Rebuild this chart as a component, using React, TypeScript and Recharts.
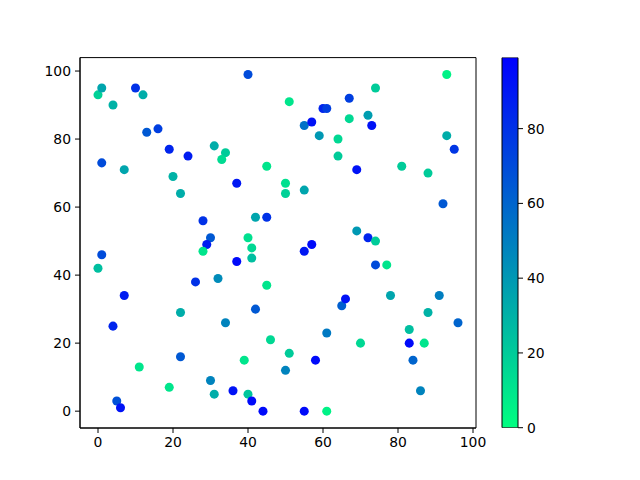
import React from "react";
import {
  ScatterChart,
  Scatter,
  XAxis,
  YAxis,
  ZAxis,
  Cell,
  ReferenceArea,
  BarChart,
  Bar,
} from "recharts";

// values
const xs = [
  0, 1, 4, 10, 12, 13, 16, 1, 7, 19, 20, 22, 24, 31, 34, 33, 40, 37, 45, 51,
  50, 50, 55, 55, 57, 59, 60, 61, 67, 64, 64, 67, 72, 73, 74, 69, 81, 88, 93, 93,
  95, 92, 42, 45, 28, 30, 29, 28, 40, 41, 41, 37, 45, 26, 32, 42, 34, 22, 46, 22,
  51, 50, 30, 31, 40, 36, 41, 44, 39, 55, 57, 55, 58, 61, 61, 65, 66, 70, 69, 72,
  74, 74, 77, 78, 83, 83, 84, 87, 88, 91, 96, 86, 0, 1, 7, 4, 11, 19, 5, 6,
];
const ys = [
  93, 95, 90, 95, 93, 82, 83, 73, 71, 77, 69, 64, 75, 78, 76, 74, 99, 67, 72, 91,
  67, 64, 65, 84, 85, 81, 89, 89, 92, 80, 75, 86, 87, 84, 95, 71, 72, 70, 99, 81,
  77, 61, 57, 57, 56, 51, 49, 47, 51, 48, 45, 44, 37, 38, 39, 30, 26, 29, 21, 16,
  17, 12, 9, 5, 5, 6, 3, 0, 15, 47, 49, 0, 15, 0, 23, 31, 33, 20, 53, 51,
  50, 43, 43, 34, 24, 20, 15, 20, 29, 34, 26, 6, 42, 46, 34, 25, 13, 7, 3, 1,
];
const cs = [
  18, 35, 30, 80, 32, 65, 75, 70, 35, 85, 30, 32, 88, 32, 20, 14, 70, 90, 10, 10,
  12, 18, 35, 55, 92, 40, 85, 75, 75, 15, 20, 15, 38, 92, 20, 92, 20, 20, 5, 32,
  78, 65, 35, 80, 80, 65, 88, 10, 12, 15, 25, 95, 10, 80, 45, 65, 48, 32, 15, 65,
  20, 48, 48, 32, 22, 92, 95, 95, 10, 90, 95, 95, 95, 5, 52, 62, 92, 15, 40, 85,
  20, 70, 10, 35, 25, 95, 60, 10, 30, 50, 60, 48, 25, 70, 88, 85, 10, 10, 68, 92,
];
const xTicks = [0, 20, 40, 60, 80, 100];
const yTicks = [0, 20, 40, 60, 80, 100];
const cTicks = [0, 20, 40, 60, 80];
const cMax = 99;

// winter_r colormap
function winterR(c: number) {
  const t = Math.max(0, Math.min(1, c / cMax));
  const g = Math.round(255 * (1 - t));
  const b = Math.round(255 * (0.5 + 0.5 * t));
  return `rgb(0,${g},${b})`;
}

const points = xs.map((x, i) => ({ x, y: ys[i], c: cs[i] }));
const barData = [{ name: "c", v: cMax }];

const FONT = "DejaVu Sans, sans-serif";
const tickStyle = { fill: "#000", fontSize: 13.9, fontFamily: FONT };

export default function App() {
  return (
    <div style={{ position: "absolute", left: 0, top: 0, width: 640, height: 480, background: "#fff" }}>
      <div style={{ position: "absolute", left: 0, top: 0 }}>
        <ScatterChart
          width={640}
          height={480}
          margin={{ top: 57.6, right: 164, bottom: 22, left: 40 }}
        >
          <XAxis
            type="number"
            dataKey="x"
            domain={[-4.8, 100.8]}
            ticks={xTicks}
            allowDataOverflow
            height={30}
            tick={tickStyle}
            tickSize={5}
            tickMargin={4}
            stroke="#000"
            axisLine={{ stroke: "#000" }}
            tickLine={{ stroke: "#000" }}
          />
          <YAxis
            type="number"
            dataKey="y"
            domain={[-4.95, 103.95]}
            ticks={yTicks}
            allowDataOverflow
            width={40}
            tick={tickStyle}
            tickSize={5}
            tickMargin={4}
            stroke="#000"
            axisLine={{ stroke: "#000" }}
            tickLine={{ stroke: "#000" }}
          />
          <ZAxis range={[58, 58]} />
          <ReferenceArea
            x1={-4.8}
            x2={100.8}
            y1={-4.95}
            y2={103.95}
            fill="none"
            fillOpacity={0}
            stroke="#000"
            strokeOpacity={1}
          />
          <Scatter data={points} shape="circle" isAnimationActive={false}>
            {points.map((p, i) => (
              <Cell key={`pt-${i}`} fill={winterR(p.c)} />
            ))}
          </Scatter>
        </ScatterChart>
      </div>

      {/* colorbar */}
      <div style={{ position: "absolute", left: 490, top: 0 }}>
        <BarChart
          width={100}
          height={480}
          data={barData}
          barCategoryGap={0}
          margin={{ top: 57.6, right: 22, bottom: 52.3, left: 12 }}
        >
          <defs>
            <linearGradient id="cbar" x1="0" y1="1" x2="0" y2="0">
              <stop offset="0%" stopColor={winterR(0)} />
              <stop offset="100%" stopColor={winterR(cMax)} />
            </linearGradient>
          </defs>
          <XAxis dataKey="name" hide />
          <YAxis
            orientation="right"
            type="number"
            domain={[0, cMax]}
            ticks={cTicks}
            allowDataOverflow
            width={50}
            tick={tickStyle}
            tickSize={5}
            tickMargin={4}
            axisLine={false}
            tickLine={{ stroke: "#000" }}
          />
          <Bar dataKey="v" fill="url(#cbar)" stroke="#000" strokeWidth={1} isAnimationActive={false} />
        </BarChart>
      </div>
    </div>
  );
}
